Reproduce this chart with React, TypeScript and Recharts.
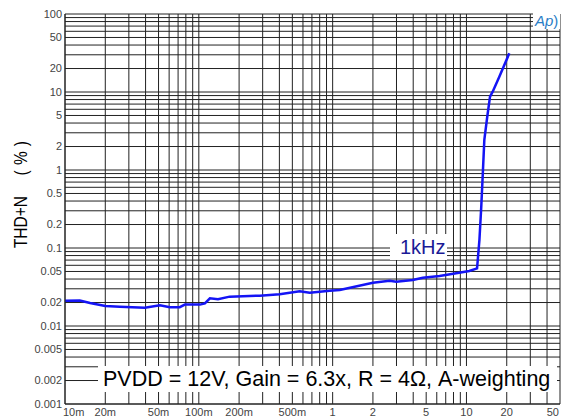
import React from "react";
import { LineChart, Line, XAxis, YAxis, CartesianGrid } from "recharts";

// output power (W) vs THD+N (%)
const power = [
  0.01, 0.0129, 0.0154, 0.02, 0.0257, 0.0395, 0.0512, 0.0608, 0.072, 0.0787,
  0.102, 0.111, 0.121, 0.139, 0.17, 0.285, 0.402, 0.567, 0.674, 0.95, 1.13,
  2.0, 2.66, 2.99, 3.97, 4.72, 6.29, 8.38, 10.5, 12.0, 12.5, 12.9, 13.25,
  13.6, 14.3, 15.0, 15.7, 17.6, 20.9,
];
const thdn = [
  0.0211, 0.0212, 0.0197, 0.018, 0.0177, 0.0172, 0.0184, 0.0174, 0.0174,
  0.0188, 0.0188, 0.0195, 0.0226, 0.022, 0.0238, 0.0245, 0.0255, 0.0279,
  0.0267, 0.0284, 0.029, 0.0359, 0.0381, 0.037, 0.0389, 0.0416, 0.0438,
  0.0474, 0.0507, 0.0549, 0.127, 0.338, 0.907, 2.43, 4.82, 8.71, 10.1, 15.7,
  31.3,
];

// log grid lines
const xGrid = [
  0.01, 0.02, 0.03, 0.04, 0.05, 0.06, 0.07, 0.08, 0.09,
  0.1, 0.2, 0.3, 0.4, 0.5, 0.6, 0.7, 0.8, 0.9,
  1, 2, 3, 4, 5, 6, 7, 8, 9,
  10, 20, 30, 40, 50,
];
const yGrid = [
  0.001, 0.002, 0.003, 0.004, 0.005, 0.006, 0.007, 0.008, 0.009,
  0.01, 0.02, 0.03, 0.04, 0.05, 0.06, 0.07, 0.08, 0.09,
  0.1, 0.2, 0.3, 0.4, 0.5, 0.6, 0.7, 0.8, 0.9,
  1, 2, 3, 4, 5, 6, 7, 8, 9,
  10, 20, 30, 40, 50, 60, 70, 80, 90, 100,
];

const xLabelValues = [0.01, 0.02, 0.05, 0.1, 0.2, 0.5, 1, 2, 5, 10, 20, 50];
const xLabelText = ["10m", "20m", "50m", "100m", "200m", "500m", "1", "2", "5", "10", "20", "50"];
const yLabelValues = [
  0.001, 0.002, 0.005, 0.01, 0.02, 0.05, 0.1, 0.2, 0.5, 1, 2, 5, 10, 20, 50, 100,
];
const yLabelText = [
  "0.001", "0.002", "0.005", "0.01", "0.02", "0.05", "0.1", "0.2", "0.5",
  "1", "2", "5", "10", "20", "50", "100",
];

const data = power.map((w, i) => ({ w, thd: thdn[i] }));

const near = (a: number, b: number) => Math.abs(a - b) / b < 1e-6;

const labelFor = (vals: number[], texts: string[], v: number) => {
  const i = vals.findIndex((x) => near(v, x));
  return i >= 0 ? texts[i] : "";
};

const FONT = "'Liberation Sans', Arial, sans-serif";

const XTick = (props: any) => {
  const { x, y, payload } = props;
  const text = labelFor(xLabelValues, xLabelText, payload.value);
  if (!text) return null;
  let anchor: "start" | "middle" | "end" = "middle";
  let dx = 0;
  if (near(payload.value, 0.01)) {
    anchor = "start";
    dx = -2;
  } else if (near(payload.value, 50)) {
    anchor = "end";
    dx = -1;
  }
  return (
    <text x={x + dx} y={y + 1} dy="0.71em" textAnchor={anchor} fontSize={11} fill="#444" fontFamily={FONT}>
      {text}
    </text>
  );
};

export default function App() {
  return (
    <div style={{ position: "absolute", left: 0, top: 0, width: 565, height: 418, background: "#fff" }}>
      <LineChart
        width={565}
        height={418}
        data={data}
        margin={{ top: 14, right: 5, bottom: 0, left: 0 }}
      >
        <CartesianGrid stroke="#222" strokeWidth={1} />
        <XAxis
          dataKey="w"
          type="number"
          scale="log"
          domain={[0.01, 50]}
          ticks={xGrid}
          interval={0}
          allowDataOverflow
          height={14}
          tickLine={false}
          tickSize={0}
          tickMargin={3}
          axisLine={{ stroke: "#222" }}
          tick={<XTick />}
        />
        <YAxis
          type="number"
          scale="log"
          domain={[0.001, 100]}
          ticks={yGrid}
          interval={0}
          allowDataOverflow
          width={65}
          tickLine={false}
          tickSize={0}
          tickMargin={3}
          axisLine={{ stroke: "#222" }}
          tick={{ fontSize: 11, fill: "#444", fontFamily: FONT }}
          tickFormatter={(v: number) => labelFor(yLabelValues, yLabelText, v)}
        />
        <Line
          type="linear"
          dataKey="thd"
          stroke="#1414f5"
          strokeWidth={2.5}
          dot={false}
          isAnimationActive={false}
        />
      </LineChart>

      {/* y axis title */}
      <div
        style={{
          position: "absolute",
          left: 21,
          top: 192,
          transform: "translate(-50%, -50%) rotate(-90deg) scaleX(0.86)",
          whiteSpace: "nowrap",
          fontFamily: FONT,
          fontSize: 18,
          color: "#000",
        }}
      >
        THD+N<span style={{ marginLeft: 24, letterSpacing: 6 }}>(%)</span>
      </div>

      {/* 1kHz tag */}
      <div
        style={{
          position: "absolute",
          left: 390,
          top: 234,
          width: 57,
          height: 26,
          lineHeight: "26px",
          background: "#fff",
          paddingLeft: 10,
          boxSizing: "border-box",
          fontFamily: FONT,
          fontSize: 20,
          color: "#1a1a96",
        }}
      >
        1kHz
      </div>

      {/* conditions box */}
      <div
        style={{
          position: "absolute",
          left: 98,
          top: 366,
          width: 459,
          height: 26,
          lineHeight: "26px",
          background: "#fff",
          paddingLeft: 5,
          boxSizing: "border-box",
          whiteSpace: "nowrap",
          fontFamily: FONT,
          fontSize: 21.5,
          color: "#000",
        }}
      >
        PVDD = 12V, Gain = 6.3x, R = 4Ω, A-weighting
      </div>

      {/* Ap logo */}
      <div
        style={{
          position: "absolute",
          left: 533,
          top: 12,
          fontFamily: FONT,
          fontSize: 15,
          fontStyle: "italic",
          color: "#2a7ec6",
          background: "#fff",
          lineHeight: "17px",
          padding: "0 2px",
        }}
      >
        Ap<span style={{ fontStyle: "normal" }}>)</span>
      </div>
    </div>
  );
}
